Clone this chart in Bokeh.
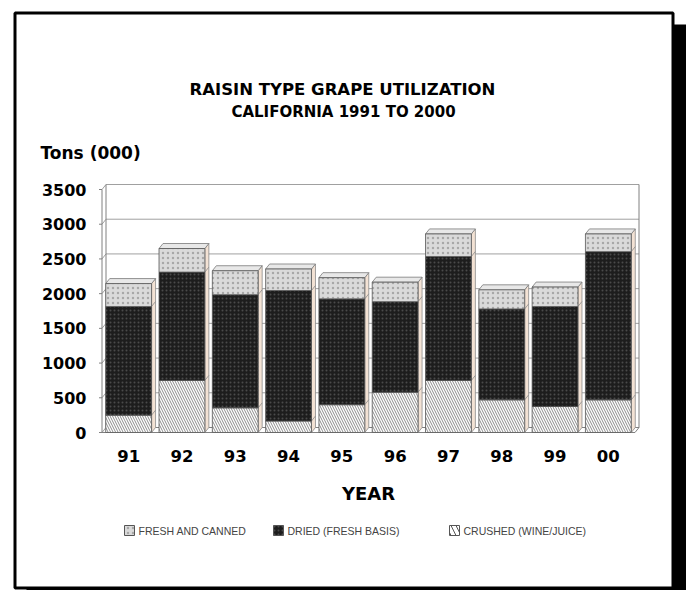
from bokeh.plotting import figure
from bokeh.models import Range1d
from bokeh.embed import file_html
from bokeh.resources import INLINE
from bokeh.core.properties import value

# ---------------- data ----------------
years = ["91", "92", "93", "94", "95", "96", "97", "98", "99", "00"]
crushed = [250, 750, 355, 165, 400, 580, 750, 470, 375, 470]
dried = [1565, 1560, 1630, 1880, 1525, 1305, 1785, 1310, 1440, 2135]
fresh = [330, 340, 345, 310, 305, 280, 325, 275, 280, 255]
y_ticks = [0, 500, 1000, 1500, 2000, 2500, 3000, 3500]
series_names = ["FRESH AND CANNED", "DRIED (FRESH BASIS)", "CRUSHED (WINE/JUICE)"]
title_1 = "RAISIN TYPE GRAPE UTILIZATION"
title_2 = "CALIFORNIA 1991 TO 2000"
y_title = "Tons (000)"
x_title = "YEAR"

# ---------------- layout (page pixels) ----------------
W, H = 686, 590
OX, OY = 0, 0
PLOT_LEFT = 101.5
CAT_PX = 53.3
ZERO_Y = 432.0
UNIT_PX = 243.0 / 3500.0
DEPTH_X, DEPTH_Y = 4.0, 5.0
BAR_W = 0.86
N = len(years)
Y_MAX = y_ticks[-1]


def X(px):
    return (px - PLOT_LEFT) / CAT_PX


def Y(py):
    return (ZERO_Y - py) / UNIT_PX


ddx = DEPTH_X / CAT_PX
ddy = DEPTH_Y / UNIT_PX

p = figure(width=W, height=H, output_backend="svg", toolbar_location=None,
           x_range=Range1d(X(OX), X(OX + W)), y_range=Range1d(Y(OY + H), Y(OY)),
           x_axis_type=None, y_axis_type=None, min_border=0,
           background_fill_color="white", border_fill_color="white")
p.grid.visible = False
p.outline_line_color = None

FONT = value("DejaVu Sans")

# ---------------- outer frame with drop shadow ----------------
p.quad(left=[X(26)], right=[X(700)], bottom=[Y(610)], top=[Y(24)],
       fill_color="black", line_color=None)
p.quad(left=[X(14.5)], right=[X(672.5)], bottom=[Y(587.5)], top=[Y(12.5)],
       fill_color="white", line_color="black", line_width=3)

# ---------------- 3D walls ----------------
GRID = "#a0a0a0"
p.multi_line(xs=[[ddx, N + ddx] for v in y_ticks[1:]],
             ys=[[v + ddy, v + ddy] for v in y_ticks[1:]],
             line_color=GRID, line_width=1)
p.multi_line(xs=[[0, ddx] for v in y_ticks],
             ys=[[v, v + ddy] for v in y_ticks],
             line_color=GRID, line_width=1)
p.multi_line(xs=[[0, 0], [ddx, ddx], [N + ddx, N + ddx], [0, N], [ddx, N + ddx], [N, N + ddx]],
             ys=[[0, Y_MAX], [ddy, Y_MAX + ddy], [ddy, Y_MAX + ddy], [0, 0], [ddy, ddy], [0, ddy]],
             line_color="#808080", line_width=1)
p.segment(x0=[X(PLOT_LEFT - 3)] * len(y_ticks), x1=[0] * len(y_ticks),
          y0=y_ticks, y1=y_ticks, line_color="#808080", line_width=1)

# ---------------- bars ----------------
styles = {
    "crushed": dict(fill_color="white", hatch_pattern="\\", hatch_color="#8c8c8c",
                    hatch_scale=5, hatch_weight=1),
    "dried": dict(fill_color="#1d1d1d", hatch_pattern=".", hatch_color="#4a4a4a",
                  hatch_scale=4, hatch_weight=1),
    "fresh": dict(fill_color="#dadada", hatch_pattern=".", hatch_color="#a8a8a8",
                  hatch_scale=5, hatch_weight=1),
}

lefts = [i + 0.5 - BAR_W / 2 for i in range(N)]
rights = [i + 0.5 + BAR_W / 2 for i in range(N)]
b_crushed = [0] * N
t_crushed = list(crushed)
b_dried = t_crushed
t_dried = [c + d for c, d in zip(crushed, dried)]
b_fresh = t_dried
t_fresh = [c + d + f for c, d, f in zip(crushed, dried, fresh)]

side_xs = [[r, r + ddx, r + ddx, r] for r in rights]
side_ys = [[0, ddy, t + ddy, t] for t in t_fresh]
p.patches(xs=side_xs, ys=side_ys, fill_color="#f3e2d4", line_color="#8a8a8a", line_width=0.8)
seg_xs, seg_ys = [], []
for r, tc, td in zip(rights, t_crushed, t_dried):
    seg_xs += [[r, r + ddx], [r, r + ddx]]
    seg_ys += [[tc, tc + ddy], [td, td + ddy]]
p.multi_line(xs=seg_xs, ys=seg_ys, line_color="#8a8a8a", line_width=0.8)
top_xs = [[l, r, r + ddx, l + ddx] for l, r in zip(lefts, rights)]
top_ys = [[t, t, t + ddy, t + ddy] for t in t_fresh]
p.patches(xs=top_xs, ys=top_ys, fill_color="#e8e8e8", line_color="#7a7a7a", line_width=0.8)

p.quad(left=lefts, right=rights, bottom=b_crushed, top=t_crushed,
       line_color="#555555", line_width=0.8, **styles["crushed"])
p.quad(left=lefts, right=rights, bottom=b_dried, top=t_dried,
       line_color="#555555", line_width=0.8, **styles["dried"])
p.quad(left=lefts, right=rights, bottom=b_fresh, top=t_fresh,
       line_color="#555555", line_width=0.8, **styles["fresh"])

# ---------------- texts ----------------
p.text(x=[X(342)], y=[Y(89)], text=[title_1], text_font=FONT, text_font_style="bold",
       text_font_size="16.5px", text_align="center", text_baseline="middle", text_color="black")
p.text(x=[X(343)], y=[Y(111)], text=[title_2], text_font=FONT, text_font_style="bold",
       text_font_size="15px", text_align="center", text_baseline="middle", text_color="black")
p.text(x=[X(40)], y=[Y(152)], text=[y_title], text_font=FONT, text_font_style="bold",
       text_font_size="17px", text_align="left", text_baseline="middle", text_color="black")
p.text(x=[X(86)] * len(y_ticks), y=y_ticks, text=[str(t) for t in y_ticks], text_font=FONT,
       text_font_style="bold", text_font_size="16px", text_align="right",
       text_baseline="middle", text_color="black")
p.text(x=[i + 0.5 for i in range(N)], y=[Y(455)] * N, text=years, text_font=FONT,
       text_font_style="bold", text_font_size="16.5px", text_align="center",
       text_baseline="middle", text_color="black")
p.text(x=[X(368)], y=[Y(493)], text=[x_title], text_font=FONT, text_font_style="bold",
       text_font_size="18px", text_align="center", text_baseline="middle", text_color="black")

# ---------------- legend ----------------
LEG_Y = Y(530)
sq_px = [129, 278, 454]
txt_px = [138, 287, 463]
leg_styles = [styles["fresh"], styles["dried"], dict(fill_color="white", hatch_pattern="\\",
                                                     hatch_color="#555555", hatch_scale=10,
                                                     hatch_weight=1)]
for sx, st in zip(sq_px, leg_styles):
    p.rect(x=[X(sx)], y=[LEG_Y], width=10, height=10, width_units="screen",
           height_units="screen", line_color="#555555", line_width=1, **st)
p.text(x=[X(t) for t in txt_px], y=[LEG_Y] * 3, text=series_names,
       text_font=value("Liberation Sans"), text_font_size="10.5px", text_align="left",
       text_baseline="middle", text_color="#444444")

open("out.html", "w").write(file_html(p, INLINE))
